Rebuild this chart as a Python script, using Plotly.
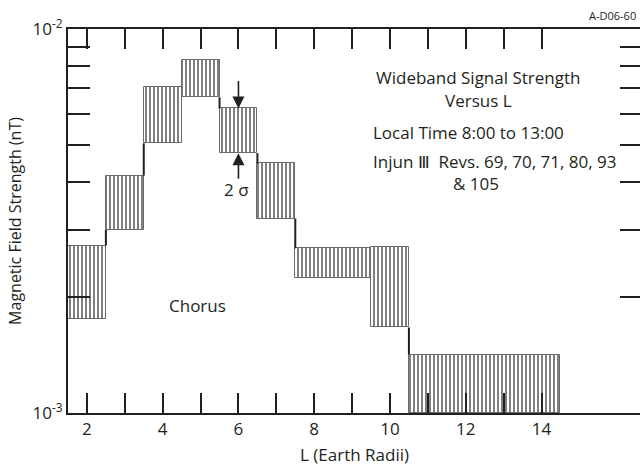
import numpy as np
import plotly.graph_objects as go

# ---- data ----
l_start = [1.5, 2.5, 3.5, 4.5, 5.5, 6.5, 7.5, 9.5, 10.5]
l_end   = [2.5, 3.5, 4.5, 5.5, 6.5, 7.5, 9.5, 10.5, 14.5]
b_low   = [1.76e-3, 3.00e-3, 5.04e-3, 6.64e-3, 4.75e-3, 3.21e-3, 2.25e-3, 1.67e-3, 1.00e-3]
b_high  = [2.73e-3, 4.15e-3, 7.07e-3, 8.30e-3, 6.21e-3, 4.47e-3, 2.685e-3, 2.71e-3, 1.42e-3]

x_tickvals = [2, 4, 6, 8, 10, 12, 14]
x_ticktext = ["2", "4", "6", "8", "10", "12", "14"]
x_minorvals = [3, 5, 7, 9, 11, 13]
y_tickvals = [1e-3, 1e-2]
y_ticktext = ["10<sup>-3</sup>", "10<sup>-2</sup>"]
y_minorvals = [2e-3, 3e-3, 4e-3, 5e-3, 6e-3, 7e-3, 8e-3, 9e-3]

FONT = "Open Sans"
INK = "#231f20"
FS = 17

centers = [(a + b) / 2 for a, b in zip(l_start, l_end)]
widths = [b - a for a, b in zip(l_start, l_end)]
heights = [h - l for l, h in zip(b_low, b_high)]

fig = go.Figure()
fig.add_trace(go.Bar(
    x=centers, y=heights, base=b_low, width=widths,
    marker=dict(color="white",
                line=dict(color="#6a6a6a", width=1),
                pattern=dict(shape="|", fgcolor="black", bgcolor="white",
                             size=4, solidity=0.5)),
    showlegend=False, hoverinfo="skip",
))

# step connectors between adjacent non-overlapping boxes
cx, cy = [], []
for i in range(len(l_start) - 1):
    if b_high[i] < b_low[i + 1]:
        y0, y1 = b_high[i], b_low[i + 1]
    elif b_low[i] > b_high[i + 1]:
        y0, y1 = b_low[i], b_high[i + 1]
    else:
        continue
    cx += [l_end[i], l_end[i], None]
    cy += [y0, y1, None]
fig.add_trace(go.Scatter(x=cx, y=cy, mode="lines", yaxis="y2",
                         line=dict(color=INK, width=2),
                         showlegend=False, hoverinfo="skip"))

fig.update_layout(
    width=640, height=467,
    margin=dict(l=68, r=0, t=29, b=54),
    paper_bgcolor="white", plot_bgcolor="white",
    font=dict(family=FONT, size=FS, color=INK),
    xaxis=dict(range=[1.5, 16.6], showline=True, mirror="ticks",
               showgrid=False, zeroline=False,
               linecolor=INK, linewidth=2,
               tickvals=x_tickvals, ticktext=x_ticktext,
               ticks="inside", ticklen=20, tickwidth=2, tickcolor=INK,
               minor=dict(tickvals=x_minorvals, ticks="inside", ticklen=20,
                          tickwidth=2, tickcolor=INK, showgrid=False),
               tickfont=dict(size=FS)),
    yaxis=dict(type="log", range=[-3, -2], showline=True, mirror=False,
               showgrid=False, zeroline=False,
               linecolor=INK, linewidth=2,
               tickvals=y_tickvals, ticktext=y_ticktext,
               ticks="inside", ticklen=22, tickwidth=2, tickcolor=INK,
               minor=dict(tickvals=y_minorvals, ticks="inside", ticklen=22,
                          tickwidth=2, tickcolor=INK, showgrid=False),
               tickfont=dict(size=FS),
               title=dict(text="Magnetic Field Strength (nT)", standoff=7,
                          font=dict(size=16))),
    yaxis2=dict(type="log", range=[-3, -2], overlaying="y", side="right",
                anchor="x", showline=False, showgrid=False, zeroline=False,
                tickvals=y_minorvals, ticks="inside", ticklen=20,
                tickwidth=2, tickcolor=INK, showticklabels=False),
    bargap=0,
)

def ptext(text, x, y, xanchor="center", size=FS):
    fig.add_annotation(text=text, x=x, y=y, xref="paper", yref="paper",
                       xanchor=xanchor, yanchor="middle", showarrow=False,
                       font=dict(family=FONT, size=size, color=INK))

ptext("L (Earth Radii)", 0.5, -0.107)
ptext("Wideband Signal Strength", 0.717, 0.875)
ptext("Versus L", 0.717, 0.815)
ptext("Local Time 8:00 to 13:00", 0.530, 0.730, xanchor="left")
ptext("Injun \u2162  Revs. 69, 70, 71, 80, 93", 0.530, 0.656, xanchor="left")
ptext("& 105", 0.669, 0.598, xanchor="left")
ptext("2 \u03c3", 0.295, 0.581)
ptext("Chorus", 0.227, 0.279)
fig.add_annotation(text="A-D06-60", x=1, y=1.034, xref="paper", yref="paper",
                   xanchor="right", yanchor="middle", showarrow=False, xshift=-2,
                   font=dict(family=FONT, size=11, color=INK))

# 2-sigma arrows on the L=6 box
k = 4
fig.add_annotation(x=centers[k], y=np.log10(b_high[k]), xref="x", yref="y",
                   ax=0, ay=-29, showarrow=True, arrowhead=2, arrowsize=1.5,
                   arrowwidth=1.6, arrowcolor=INK, text="")
fig.add_annotation(x=centers[k], y=np.log10(b_low[k]), xref="x", yref="y",
                   ax=0, ay=27, showarrow=True, arrowhead=2, arrowsize=1.5,
                   arrowwidth=1.6, arrowcolor=INK, text="")

fig.write_html("out.html")
